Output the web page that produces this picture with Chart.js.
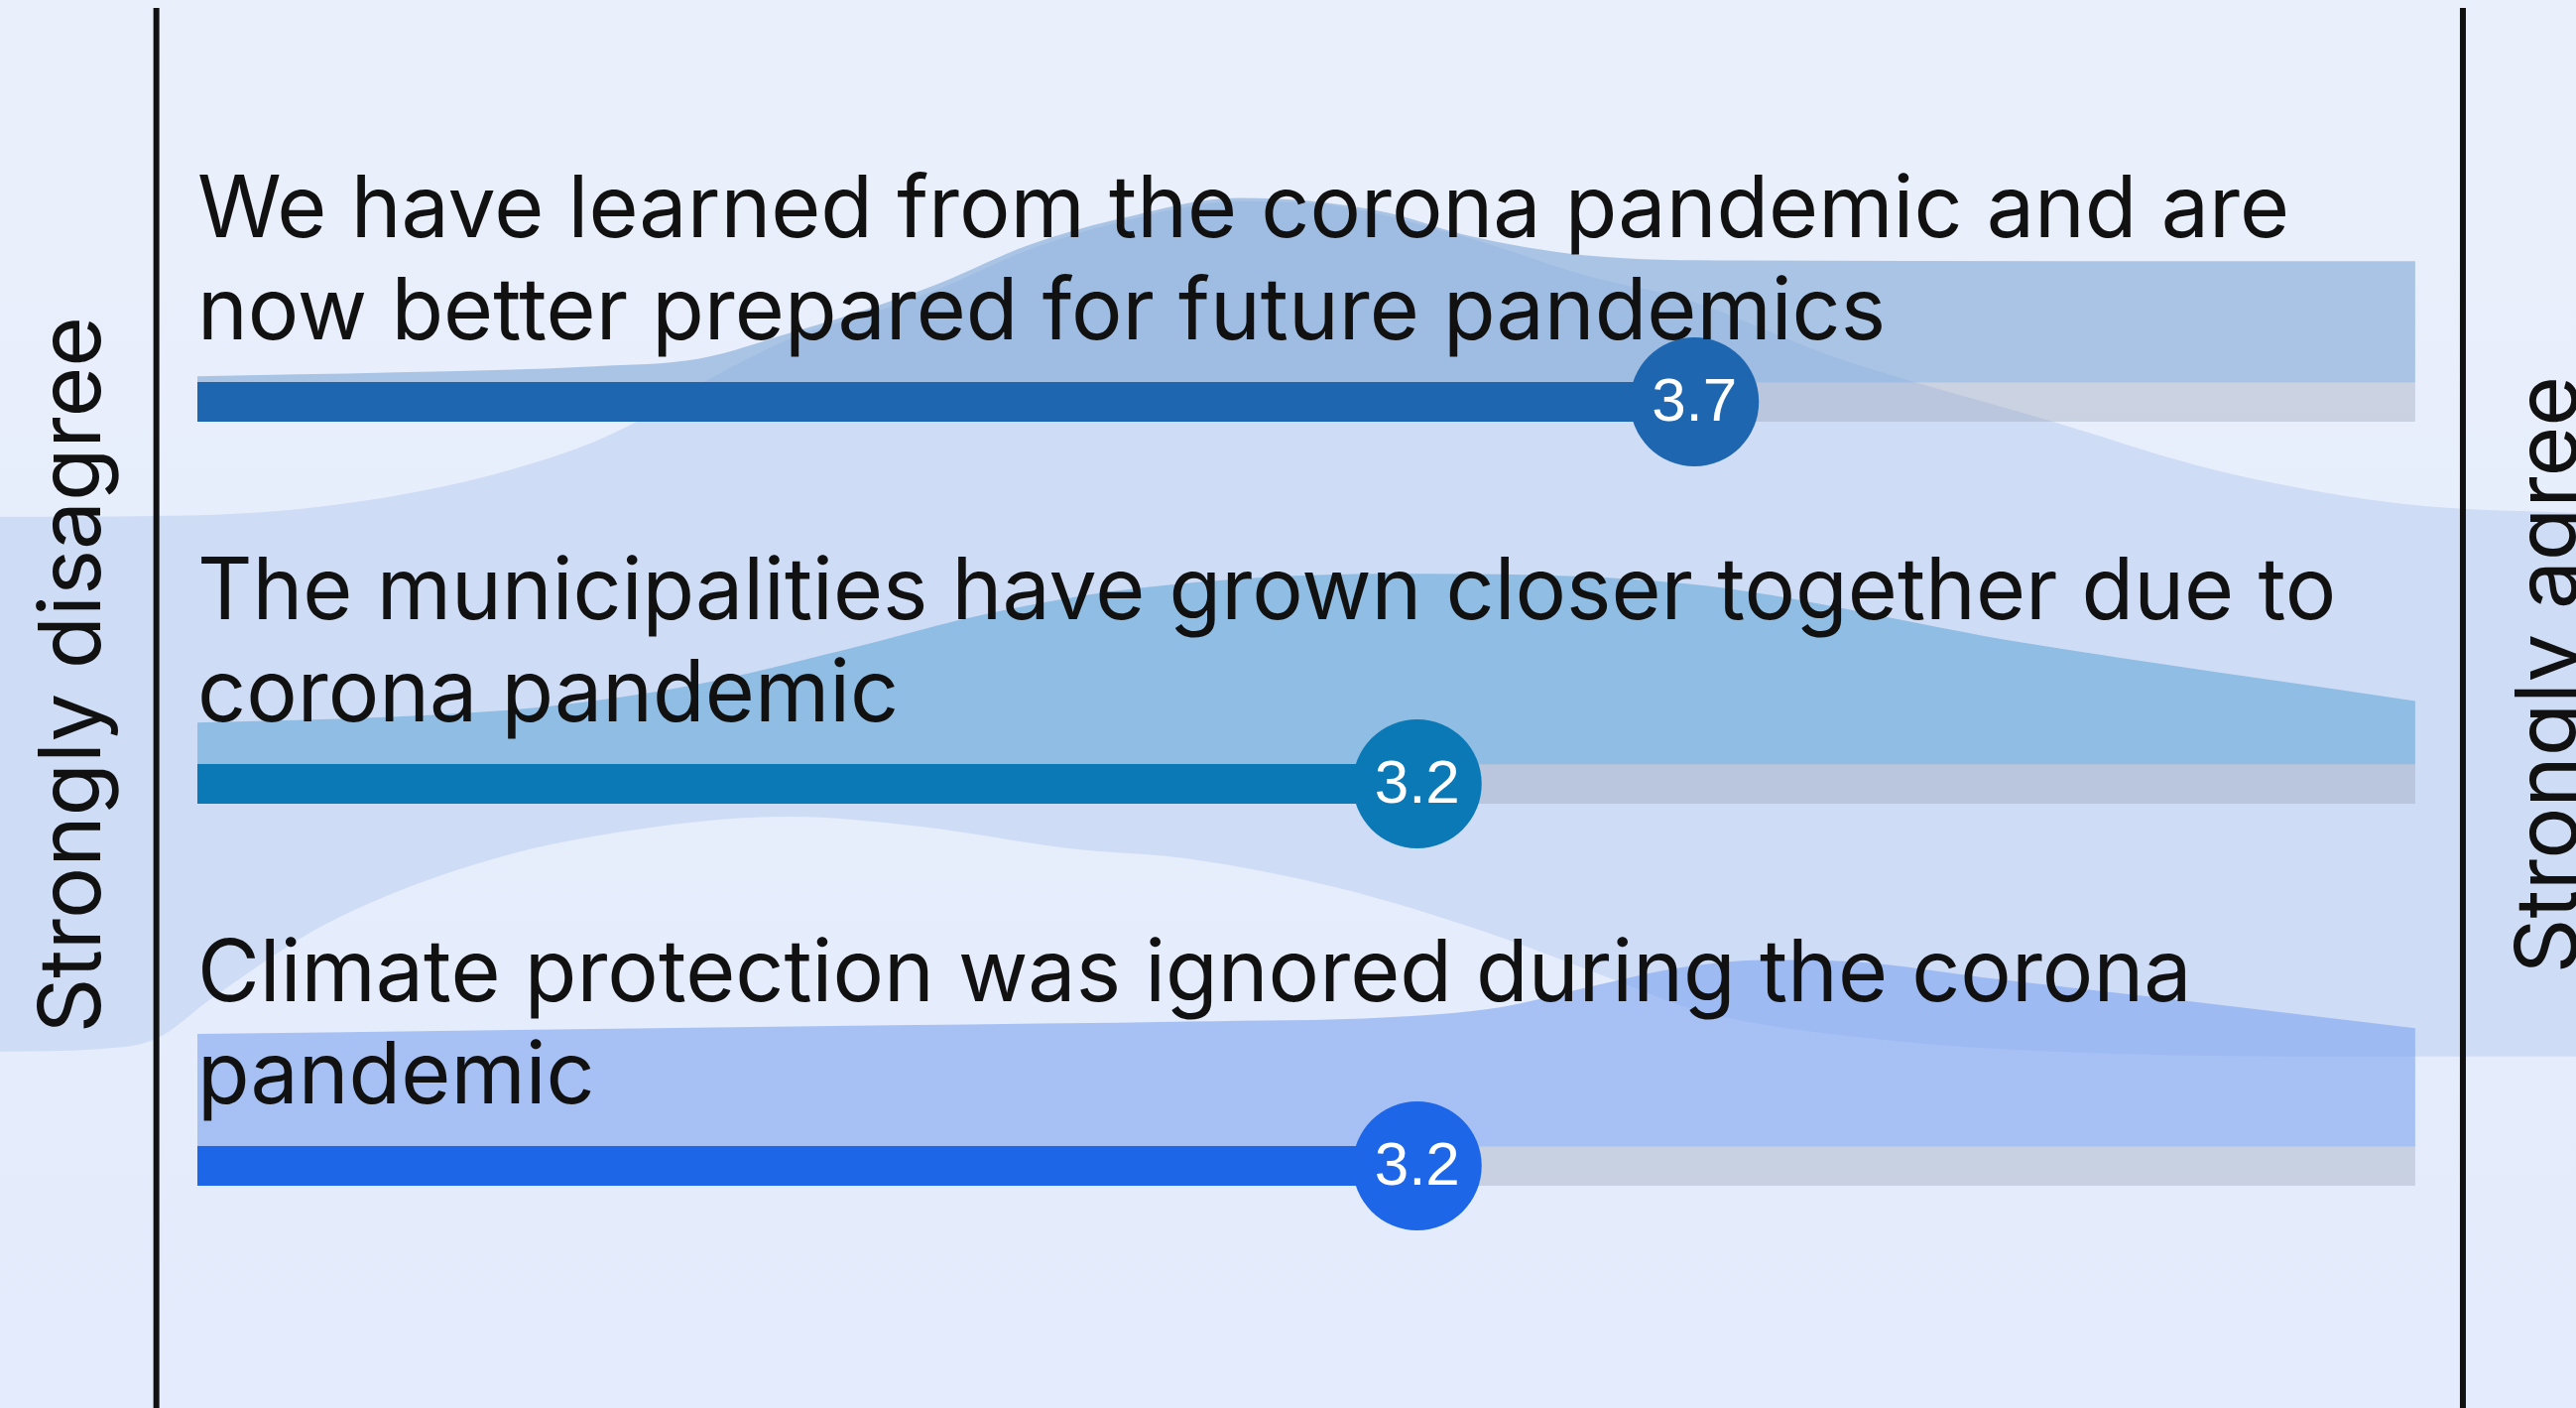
<!DOCTYPE html>
<html>
<head>
<meta charset="utf-8">
<script src="https://cdn.jsdelivr.net/npm/chart.js@4.4.0/dist/chart.umd.min.js"></script>
<style>
  html, body { margin: 0; padding: 0; background: #e7eefb; }
  #wrap { width: 2597px; height: 1419px; position: relative; }
</style>
</head>
<body>
<div id="wrap"><canvas id="chart"></canvas></div>
<script>
// one statement per row, already split in two lines
const statements = [
  ["We have learned from the corona pandemic and are", "now better prepared for future pandemics"],
  ["The municipalities have grown closer together due to", "corona pandemic"],
  ["Climate protection was ignored during the corona", "pandemic"],
];
const means = [3.7, 3.2, 3.2];
const rows = [1, 2, 3];
const barColors = ["#1e67b0", "#0a79b6", "#1d66e7"];
const areaColors = ["rgba(126,167,213,0.6)", "rgba(100,168,215,0.6)", "rgba(125,164,240,0.6)"];
const restColor = "rgba(150,162,180,0.36)";
const ribbonColor = "#cfdcf5";
const scaleLabels = ["Strongly disagree", "Strongly agree"];

// answer distribution above each bar (x on the 1..5 scale, h in row units)
const dens1X = [1.000, 1.360, 1.717, 1.905, 2.075, 2.209, 2.343, 2.497, 2.657, 2.880, 3.005, 3.148, 3.292, 3.506, 3.775, 5.000];
const dens1H = [0.016, 0.026, 0.042, 0.062, 0.132, 0.192, 0.262, 0.358, 0.426, 0.483, 0.475, 0.444, 0.384, 0.332, 0.319, 0.317];
const dens2X = [1.000, 1.360, 1.628, 1.896, 2.165, 2.433, 2.701, 3.148, 3.685, 4.299, 5.000];
const dens2H = [0.109, 0.125, 0.151, 0.208, 0.299, 0.397, 0.462, 0.499, 0.473, 0.317, 0.166];
const dens3X = [1.000, 1.538, 2.254, 2.791, 3.148, 3.349, 3.506, 3.685, 3.828, 3.989, 4.222, 4.580, 5.000];
const dens3H = [0.294, 0.304, 0.317, 0.327, 0.338, 0.364, 0.416, 0.470, 0.488, 0.483, 0.442, 0.382, 0.309];

// wide background ribbon, top and bottom edge
const ribbonTopX = [0.644, 0.921, 1.181, 1.395, 1.574, 1.717, 1.825, 1.905, 2.075, 2.209, 2.343, 2.497, 2.657, 2.880, 3.059, 3.292, 3.506, 3.685, 3.953, 4.340, 4.606, 4.812, 5.016, 5.290];
const ribbonTopY = [1.301, 1.299, 1.281, 1.236, 1.174, 1.104, 1.026, 0.956, 0.831, 0.771, 0.701, 0.603, 0.532, 0.475, 0.488, 0.571, 0.670, 0.732, 0.883, 1.049, 1.166, 1.231, 1.273, 1.291];
const ribbonBotX = [0.644, 0.823, 0.925, 1.029, 1.236, 1.533, 1.830, 2.066, 2.304, 2.571, 2.791, 3.059, 3.327, 3.542, 3.714, 4.043, 4.444, 4.937, 5.290];
const ribbonBotY = [2.701, 2.694, 2.668, 2.558, 2.364, 2.197, 2.112, 2.086, 2.112, 2.169, 2.197, 2.273, 2.390, 2.506, 2.597, 2.670, 2.706, 2.714, 2.714];

const xMin = 0.644, xMax = 5.29;
const yMin = -0.052, yMax = 3.634;
const barHalf = 0.051;
const axisLeft = 0.926, axisRight = 5.086;

const densX = [dens1X, dens2X, dens3X];
const densH = [dens1H, dens2H, dens3H];

const zip = (xs, ys) => xs.map((x, i) => ({ x: x, y: ys[i] }));

const datasets = [];

// value circles
datasets.push({
  data: means.map((m, i) => ({ x: m, y: rows[i] })),
  showLine: false,
  pointRadius: 65,
  pointHoverRadius: 65,
  pointBorderWidth: 0,
  pointBackgroundColor: barColors,
  order: 1,
});

rows.forEach((r, i) => {
  datasets.push({
    data: [{ x: 1, y: r }, { x: means[i], y: r }],
    borderColor: barColors[i],
    borderWidth: 40,
    borderCapStyle: "butt",
    pointRadius: 0,
    fill: false,
    order: 2,
  });
  datasets.push({
    data: [{ x: means[i], y: r }, { x: 5, y: r }],
    borderColor: restColor,
    borderWidth: 40,
    borderCapStyle: "butt",
    pointRadius: 0,
    fill: false,
    order: 3,
  });
  datasets.push({
    data: densX[i].map((x, k) => ({ x: x, y: r - barHalf - densH[i][k] })),
    borderWidth: 0,
    pointRadius: 0,
    backgroundColor: areaColors[i],
    fill: { value: r - barHalf },
    cubicInterpolationMode: "monotone",
    order: 4,
  });
});

datasets.push({
  data: zip(ribbonTopX, ribbonTopY),
  borderWidth: 0,
  pointRadius: 0,
  backgroundColor: ribbonColor,
  fill: "+1",
  cubicInterpolationMode: "monotone",
  order: 5,
});
datasets.push({
  data: zip(ribbonBotX, ribbonBotY),
  borderWidth: 0,
  pointRadius: 0,
  fill: false,
  cubicInterpolationMode: "monotone",
  order: 5,
});

const background = {
  id: "background",
  beforeDraw(chart) {
    const { ctx, width, height } = chart;
    const g = ctx.createLinearGradient(0, 0, 0, height);
    g.addColorStop(0, "#eaf0fb");
    g.addColorStop(1, "#e3ebfc");
    ctx.save();
    ctx.fillStyle = g;
    ctx.fillRect(0, 0, width, height);
    ctx.restore();
  },
};

const labels = {
  id: "labels",
  afterDatasetsDraw(chart) {
    const { ctx, scales: { x, y } } = chart;
    ctx.save();
    ctx.fillStyle = "#111";
    ctx.font = "400 86px Inter";
    ctx.textAlign = "left";
    ctx.textBaseline = "alphabetic";
    statements.forEach((lines, i) => {
      const yc = y.getPixelForValue(rows[i]);
      ctx.fillText(lines[0], x.getPixelForValue(1), yc - 166);
      ctx.fillText(lines[1], x.getPixelForValue(1), yc - 63);
    });

    // value labels in the circles
    ctx.fillStyle = "#fff";
    ctx.font = '62px "Liberation Sans"';
    ctx.textAlign = "center";
    ctx.textBaseline = "middle";
    means.forEach((m, i) => {
      ctx.fillText(m.toFixed(1), x.getPixelForValue(m), y.getPixelForValue(rows[i]) + 2);
    });

    // scale end lines
    ctx.fillStyle = "#111";
    const lx = x.getPixelForValue(axisLeft);
    const rx = x.getPixelForValue(axisRight);
    ctx.fillRect(lx - 3, 8, 6, chart.height);
    ctx.fillRect(rx - 3, 8, 6, chart.height);

    // rotated end labels
    const ly = y.getPixelForValue(1.715);
    ctx.font = "400 87px Inter";
    ctx.textAlign = "center";
    ctx.textBaseline = "alphabetic";
    ctx.save();
    ctx.translate(lx - 57, ly);
    ctx.rotate(-Math.PI / 2);
    ctx.fillText(scaleLabels[0], 0, 0);
    ctx.restore();
    ctx.save();
    ctx.translate(rx + 115, ly);
    ctx.rotate(-Math.PI / 2);
    ctx.fillText(scaleLabels[1], 0, 0);
    ctx.restore();
    ctx.restore();
  },
};

new Chart(document.getElementById("chart"), {
  type: "line",
  data: { datasets: datasets },
  options: {
    responsive: true,
    maintainAspectRatio: false,
    animation: false,
    events: [],
    layout: { padding: 0, autoPadding: false },
    plugins: { legend: { display: false }, tooltip: { enabled: false } },
    scales: {
      x: { type: "linear", min: xMin, max: xMax, display: false },
      y: { type: "linear", min: yMin, max: yMax, reverse: true, display: false },
    },
  },
  plugins: [background, labels],
});
</script>
</body>
</html>
